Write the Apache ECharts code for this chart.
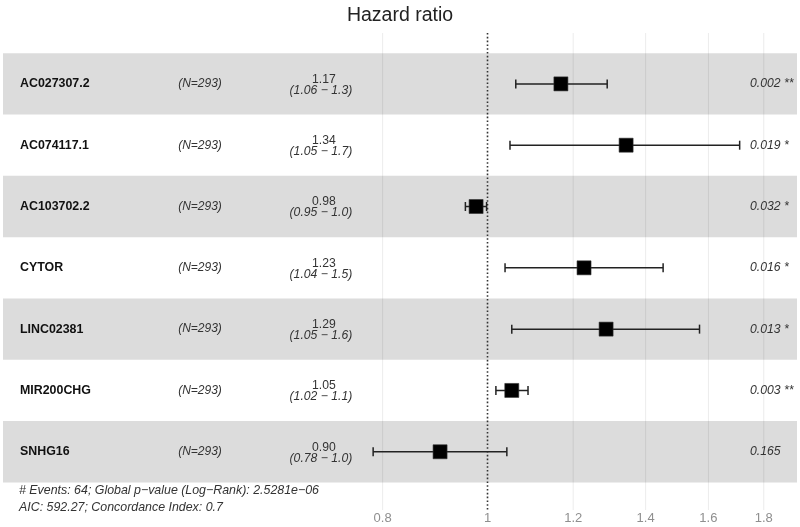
<!DOCTYPE html>
<html>
<head>
<meta charset="utf-8">
<script src="https://cdn.jsdelivr.net/npm/echarts@6/dist/echarts.min.js"></script>
<style>html,body{margin:0;padding:0;background:#fff}#c{width:800px;height:527px}</style>
</head>
<body>
<div id="c"></div>
<script>
// ---- data ----
const genes = ['AC027307.2','AC074117.1','AC103702.2','CYTOR','LINC02381','MIR200CHG','SNHG16'];
const nPatients = [293,293,293,293,293,293,293];
const hr = [1.169,1.343,0.976,1.228,1.287,1.053,0.904];
const ciLow = [1.062,1.049,0.954,1.038,1.053,1.018,0.784];
const ciHigh = [1.29,1.71,0.998,1.453,1.57,1.09,1.042];
const pValues = [0.002,0.019,0.032,0.016,0.013,0.003,0.165];
const xTicks = [0.8,1,1.2,1.4,1.6,1.8];
const xTickLabels = ['0.8','1','1.2','1.4','1.6','1.8'];
const footLines = ['# Events: 64; Global p\u2212value (Log\u2212Rank): 2.5281e\u221206',
                   'AIC: 592.27; Concordance Index: 0.7'];

// ---- layout (log-scale axis in ln units) ----
const X_MIN = -1.0309, X_MAX = 0.6585;
const Y_MIN = -0.83, Y_MAX = 6.95;
const COL_NAME = -0.9947, COL_N = -0.6117, COL_HR = -0.3545, COL_P = 0.5585;
const FONT = 'Liberation Sans, Arial, sans-serif';

function stars(p){ return p < 0.001 ? ' ***' : p < 0.01 ? ' **' : p < 0.05 ? ' *' : ''; }

const rows = genes.map((g,i)=>i);
const chart = echarts.init(document.getElementById('c'));
chart.setOption({
  animation:false,
  title:{text:'Hazard ratio', left:'center', top:1,
    textStyle:{fontSize:19.5, fontWeight:'normal', color:'#222', fontFamily:FONT}},
  grid:{left:3, right:3, top:33, bottom:17},
  xAxis:{type:'value', min:X_MIN, max:X_MAX,
    axisLine:{show:false}, axisTick:{show:false}, splitLine:{show:false},
    axisLabel:{customValues:xTicks.map(Math.log), margin:2, color:'#8f8f8f', fontSize:13, fontFamily:FONT,
      formatter:function(v){ let best=0; xTicks.forEach((t,k)=>{ if(Math.abs(Math.log(t)-v) < Math.abs(Math.log(xTicks[best])-v)) best=k; }); return xTickLabels[best]; }}},
  yAxis:{type:'value', min:Y_MIN, max:Y_MAX, inverse:true, show:false},
  graphic: footLines.map((t,k)=>({type:'text', left:19, top:485+k*17,
    style:{text:t, fontSize:12.4, fontStyle:'italic', fill:'#333', fontFamily:FONT}})),
  series:[
    { // bands
      type:'custom', z:1, silent:true,
      data: rows.filter(i=>i%2===0).map(i=>[i]),
      renderItem:function(params, api){
        const i = api.value(0);
        const a = api.coord([X_MIN, i-0.5]), b = api.coord([X_MAX, i+0.5]);
        return {type:'rect', shape:{x:a[0], y:a[1], width:b[0]-a[0], height:b[1]-a[1]}, style:{fill:'#dcdcdc'}};
      }
    },
    { // gridlines
      type:'custom', z:2, silent:true,
      data: xTicks.filter(t=>t!==1).map(t=>[Math.log(t)]),
      renderItem:function(params, api){
        const a = api.coord([api.value(0), Y_MIN]), b = api.coord([api.value(0), Y_MAX]);
        return {type:'line', shape:{x1:a[0], y1:a[1], x2:b[0], y2:b[1]}, style:{stroke:'rgba(0,0,0,0.08)', lineWidth:1}};
      }
    },
    { // reference line at HR=1
      type:'custom', z:3, silent:true,
      data: [[Math.log(1)]],
      renderItem:function(params, api){
        const a = api.coord([api.value(0), Y_MIN]), b = api.coord([api.value(0), Y_MAX]);
        return {type:'line', shape:{x1:a[0], y1:a[1], x2:b[0], y2:b[1]},
          style:{stroke:'#333', lineWidth:1.6, lineDash:[1.6,2.2]}};
      }
    },
    { // CI + square
      type:'custom', z:4, silent:true,
      data: rows.map(i=>[i, Math.log(ciLow[i]), Math.log(ciHigh[i]), Math.log(hr[i])]),
      renderItem:function(params, api){
        const i = api.value(0);
        const l = api.coord([api.value(1), i]), h = api.coord([api.value(2), i]), m = api.coord([api.value(3), i]);
        const st = {stroke:'#222', lineWidth:1.5};
        return {type:'group', children:[
          {type:'line', shape:{x1:l[0], y1:l[1], x2:h[0], y2:h[1]}, style:st},
          {type:'line', shape:{x1:l[0], y1:l[1]-4.5, x2:l[0], y2:l[1]+4.5}, style:st},
          {type:'line', shape:{x1:h[0], y1:h[1]-4.5, x2:h[0], y2:h[1]+4.5}, style:st},
          {type:'rect', shape:{x:m[0]-7, y:m[1]-7, width:14, height:14}, style:{fill:'#000', stroke:'#333', lineWidth:0.6}}
        ]};
      }
    },
    { // table text
      type:'custom', z:5, silent:true,
      data: rows.map(i=>[i]),
      renderItem:function(params, api){
        const i = api.value(0);
        const pn = api.coord([COL_NAME, i]), pN = api.coord([COL_N, i]), ph = api.coord([COL_HR, i]), pp = api.coord([COL_P, i]);
        const ciTxt = '(' + ciLow[i].toFixed(2) + ' \u2212 ' + ciHigh[i].toFixed(1) + ')';
        return {type:'group', children:[
          {type:'text', x:pn[0], y:pn[1], style:{text:genes[i], fontSize:12.4, fontWeight:'bold', fill:'#111', fontFamily:FONT, textAlign:'left', textVerticalAlign:'middle'}},
          {type:'text', x:pN[0], y:pN[1], style:{text:'(N=' + nPatients[i] + ')', fontSize:12, fontStyle:'italic', fill:'#333', fontFamily:FONT, textAlign:'center', textVerticalAlign:'middle'}},
          {type:'text', x:ph[0]+3, y:ph[1]-4.5, style:{text:hr[i].toFixed(2), fontSize:12.2, fill:'#333', fontFamily:FONT, textAlign:'center', textVerticalAlign:'middle'}},
          {type:'text', x:ph[0], y:ph[1]+6.5, style:{text:ciTxt, fontSize:12.2, fontStyle:'italic', fill:'#333', fontFamily:FONT, textAlign:'center', textVerticalAlign:'middle'}},
          {type:'text', x:pp[0], y:pp[1], style:{text:pValues[i].toFixed(3) + stars(pValues[i]), fontSize:12.2, fontStyle:'italic', fill:'#333', fontFamily:FONT, textAlign:'left', textVerticalAlign:'middle'}}
        ]};
      }
    }
  ]
});
</script>
</body>
</html>
